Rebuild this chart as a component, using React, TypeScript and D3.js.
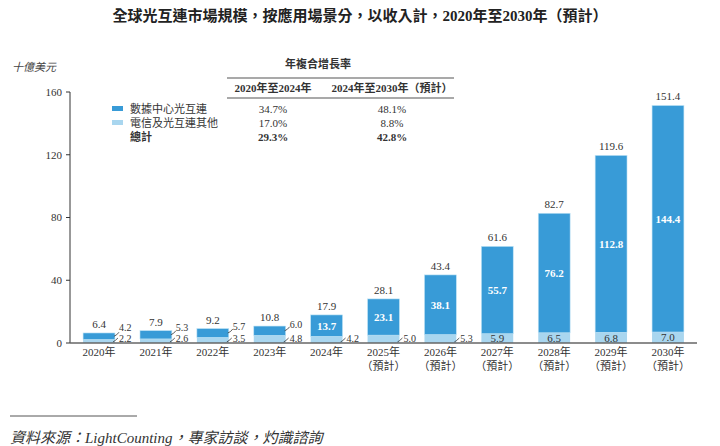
import * as d3 from 'd3';
import React from 'react';

const years = ['2020年', '2021年', '2022年', '2023年', '2024年', '2025年', '2026年', '2027年', '2028年', '2029年', '2030年'];
const forecast = [false, false, false, false, false, true, true, true, true, true, true];
const dataCenter = [4.2, 5.3, 5.7, 6.0, 13.7, 23.1, 38.1, 55.7, 76.2, 112.8, 144.4];
const telecom = [2.2, 2.6, 3.5, 4.8, 4.2, 5.0, 5.3, 5.9, 6.5, 6.8, 7.0];
const totals = [6.4, 7.9, 9.2, 10.8, 17.9, 28.1, 43.4, 61.6, 82.7, 119.6, 151.4];
const yTicks = [0, 40, 80, 120, 160];

const legendNames = ['數據中心光互連', '電信及光互連其他', '總計'];
const cagrHeaders = ['2020年至2024年', '2024年至2030年（預計）'];
const cagrFirst = ['34.7%', '17.0%', '29.3%'];
const cagrSecond = ['48.1%', '8.8%', '42.8%'];

const DARK = '#389bd7';
const LIGHT = '#a9d6ef';
const FONT = '"Liberation Serif", "Noto Sans CJK TC", serif';

export default function App() {
  const width = 720;
  const height = 446;

  const x = d3.scaleBand<string>().domain(years).range([70, 697]).paddingInner(0.44).paddingOuter(0.23);
  const y = d3.scaleLinear().domain([0, 160]).range([343, 92]);
  const bw = x.bandwidth();

  return (
    <svg width={width} height={height} style={{ position: 'absolute', left: 0, top: 0, fontFamily: FONT }}>
      <rect width={width} height={height} fill="#fff" />
      <text x={360} y={21} textAnchor="middle" fontSize={15} fontWeight="bold" fill="#222">
        全球光互連市場規模，按應用場景分，以收入計，2020年至2030年（預計）
      </text>
      <text x={12} y={71} fontSize={11} fontStyle="italic" fill="#444">十億美元</text>

      {/* y axis */}
      <line x1={70} x2={70} y1={y(160)} y2={y(0)} stroke="#333" strokeWidth={1} />
      {yTicks.map((t) => (
        <g key={t}>
          <line x1={66} x2={70} y1={y(t)} y2={y(t)} stroke="#333" />
          <text x={62} y={y(t)} dy="0.35em" textAnchor="end" fontSize={11} fill="#333">{t}</text>
        </g>
      ))}

      {/* bars */}
      {years.map((yr, i) => {
        const x0 = x(yr)!;
        const cx = x0 + bw / 2;
        const tTop = y(telecom[i]);
        const dTop = y(telecom[i] + dataCenter[i]);
        const dcOutside = y(0) - y(dataCenter[i]) < 12;
        const tOutside = y(0) - tTop < 9;
        const rx = x0 + bw;
        const dcLabelY = Math.min(dTop, 329.5) - 1.5;
        return (
          <g key={yr}>
            <rect x={x0} y={tTop} width={bw} height={y(0) - tTop} fill={LIGHT} />
            <rect x={x0} y={dTop} width={bw} height={tTop - dTop} fill={DARK} stroke="#bfe3f5" strokeWidth={0.6} />
            <text x={cx} y={dTop - 5} textAnchor="middle" fontSize={11} fill="#333">{totals[i].toFixed(1)}</text>
            {dcOutside ? (
              <g>
                <path d={`M${rx - 1},${(dTop + tTop) / 2} q3,-1 5,-4`} fill="none" stroke="#333" strokeWidth={0.8} />
                <text x={rx + 4} y={dcLabelY} dy="0.33em" fontSize={10} fill="#333">{dataCenter[i].toFixed(1)}</text>
              </g>
            ) : (
              <text x={cx} y={(dTop + tTop) / 2} dy="0.35em" textAnchor="middle" fontSize={11} fontWeight="bold" fill="#fff">
                {dataCenter[i].toFixed(1)}
              </text>
            )}
            {tOutside ? (
              <g>
                <path d={`M${rx - 2},${y(0) - 1} q2,-1 5,-4`} fill="none" stroke="#333" strokeWidth={0.8} />
                <text x={rx + 4} y={338.5} dy="0.33em" fontSize={10} fill="#333">{telecom[i].toFixed(1)}</text>
              </g>
            ) : (
              <text x={cx} y={(tTop + y(0)) / 2} dy="0.35em" textAnchor="middle" fontSize={11} fill="#333">
                {telecom[i].toFixed(1)}
              </text>
            )}
            <text x={cx} y={356} textAnchor="middle" fontSize={11} fill="#333">{yr}</text>
            {forecast[i] && (
              <text x={cx} y={370} textAnchor="middle" fontSize={11} fill="#333">（預計）</text>
            )}
          </g>
        );
      })}
      <line x1={70} x2={697} y1={y(0)} y2={y(0)} stroke="#666" strokeWidth={1.5} />

      {/* legend + CAGR table */}
      <text x={318} y={68} textAnchor="middle" fontSize={11} fontWeight="bold" fill="#333">年複合增長率</text>
      <line x1={227} x2={454} y1={78} y2={78} stroke="#555" strokeWidth={1.2} />
      <text x={273} y={88} dy="0.35em" textAnchor="middle" fontSize={11} fontWeight="bold" fill="#333">{cagrHeaders[0]}</text>
      <text x={392} y={88} dy="0.35em" textAnchor="middle" fontSize={11} fontWeight="bold" fill="#333">{cagrHeaders[1]}</text>
      <line x1={227} x2={454} y1={98} y2={98} stroke="#555" strokeWidth={1.2} />
      {legendNames.map((name, i) => {
        const ry = 109 + i * 14;
        return (
          <g key={name}>
            {i < 2 && <rect x={112} y={ry - 3} width={11} height={5} fill={i === 0 ? DARK : LIGHT} />}
            <text x={130} y={ry} dy="0.35em" fontSize={11} fontWeight={i === 2 ? 'bold' : 'normal'} fill="#333">{name}</text>
            <text x={273} y={ry} dy="0.35em" textAnchor="middle" fontSize={11} fontWeight={i === 2 ? 'bold' : 'normal'} fill="#333">{cagrFirst[i]}</text>
            <text x={392} y={ry} dy="0.35em" textAnchor="middle" fontSize={11} fontWeight={i === 2 ? 'bold' : 'normal'} fill="#333">{cagrSecond[i]}</text>
          </g>
        );
      })}

      {/* source */}
      <line x1={10} x2={137} y1={416} y2={416} stroke="#555" strokeWidth={1} />
      <text x={10} y={443} fontSize={15} fontStyle="italic" fill="#333">資料來源：LightCounting，專家訪談，灼識諮詢</text>
    </svg>
  );
}
